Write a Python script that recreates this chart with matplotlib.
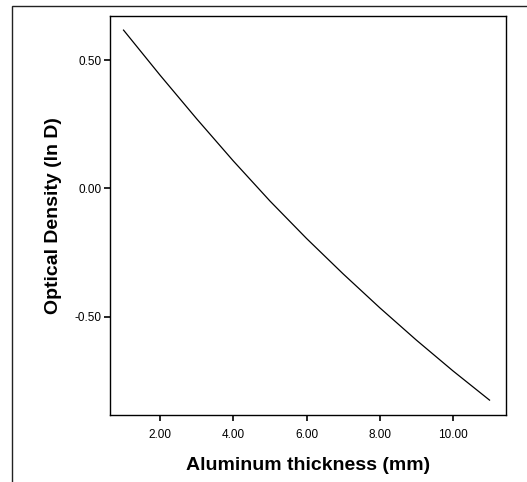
import numpy as np
import matplotlib.pyplot as plt
from matplotlib.patches import Rectangle

# values
thickness = [1, 2, 3, 4, 5, 6, 7, 8, 9, 10, 11]
density = [0.617, 0.441, 0.271, 0.107, -0.049, -0.195, -0.333, -0.465, -0.591, -0.711, -0.825]

xticks = [2, 4, 6, 8, 10]
yticks = [-0.5, 0.0, 0.5]

plt.rcParams['font.family'] = ['Liberation Sans', 'DejaVu Sans']

fig = plt.figure(figsize=(5.27, 4.82), dpi=100)

# outer frame around the chart, open on the right and bottom
fig.patches.append(Rectangle((12 / 527, -0.1), 1.2, 0.1 + 1 - 6 / 482,
                             transform=fig.transFigure, fill=False,
                             edgecolor='#222222', linewidth=1.0))

ax = fig.add_axes([110 / 527, 1 - 415 / 482, 396 / 527, 399 / 482])
ax.plot(thickness, density, color='black', linewidth=0.9)

ax.set_xlim(0.63, 11.45)
ax.set_ylim(-0.883, 0.672)
ax.set_xticks(xticks)
ax.set_xticklabels(["%.2f" % v for v in xticks])
ax.set_yticks(yticks)
ax.set_yticklabels(["%.2f" % v for v in yticks])

ax.tick_params(direction='out', length=4, width=1.2, labelsize=8.5, pad=2)
ax.tick_params(axis='x', pad=6)
for s in ax.spines.values():
    s.set_linewidth(1.0)

ax.set_xlabel("Aluminum thickness (mm)", fontsize=14, fontweight='bold')
ax.set_ylabel("Optical Density (ln D)", fontsize=14, fontweight='bold')
ax.xaxis.set_label_coords(0.5, -0.105)
ax.yaxis.set_label_coords(-0.12, 0.5)

fig.savefig("out.png", dpi=100)
